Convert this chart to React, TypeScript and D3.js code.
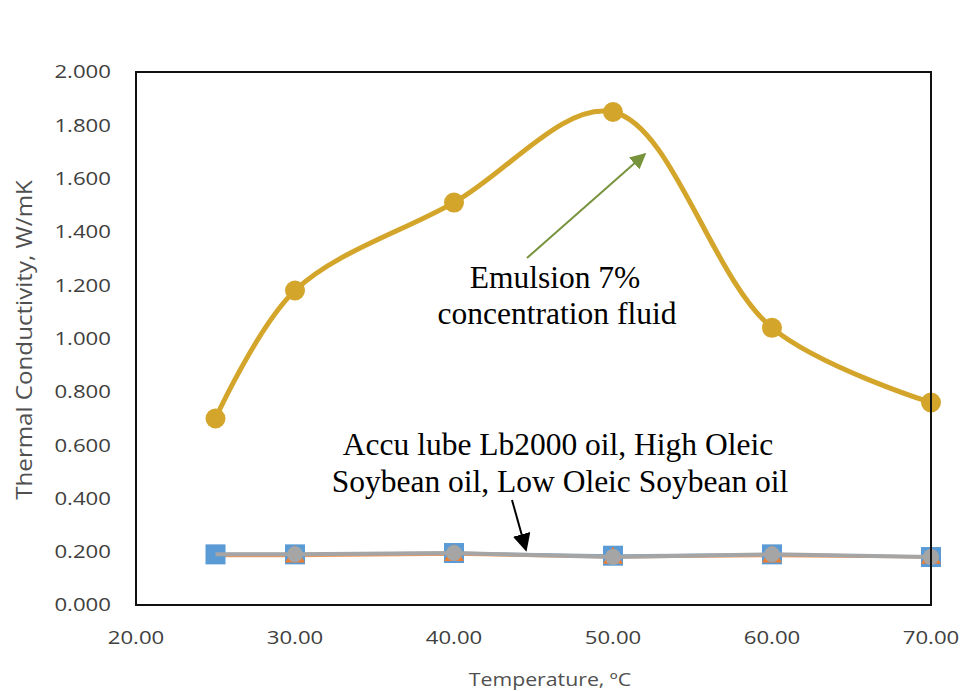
import React from "react";
import * as d3 from "d3";

const temperatures = [25, 30, 40, 50, 60, 70];
const emulsion = [0.7, 1.18, 1.51, 1.85, 1.04, 0.76];
const accuLube = [0.19, 0.19, 0.195, 0.185, 0.19, 0.18];
const highOleic = [0.185, 0.185, 0.19, 0.18, 0.185, 0.18];
const lowOleic = [0.19, 0.19, 0.195, 0.18, 0.19, 0.18];
const xTicks = [20, 30, 40, 50, 60, 70];
const yTicks = [0, 0.2, 0.4, 0.6, 0.8, 1.0, 1.2, 1.4, 1.6, 1.8, 2.0];

const W = 962;
const H = 691;
const left = 136;
const right = 931;
const top = 72;
const bottom = 605;

export default function App() {
  const x = d3.scaleLinear().domain([20, 70]).range([left, right]);
  const y = d3.scaleLinear().domain([0, 2]).range([bottom, top]);

  const smooth = d3
    .line<number>()
    .x((_, i) => x(temperatures[i]))
    .y((d) => y(d))
    .curve(d3.curveCatmullRom.alpha(0.5));
  const straight = d3
    .line<number>()
    .x((_, i) => x(temperatures[i]))
    .y((d) => y(d));

  const tri = d3.symbol(d3.symbolTriangle, 170)();

  const gold = "#d4a52b";
  const blue = "#5b9bd5";
  const orange = "#ed7d31";
  const gray = "#a5a5a5";
  const sans = "'Open Sans', 'DejaVu Sans', sans-serif";
  const serif = "'Liberation Serif', 'Times New Roman', serif";
  const serifSize = 31.5;

  return (
    <svg
      width={W}
      height={H}
      style={{ position: "absolute", left: 0, top: 0, background: "#fff" }}
    >
      <defs>
        <marker id="arrG" viewBox="0 0 10 10" refX="9" refY="5" markerWidth="8" markerHeight="8" orient="auto">
          <path d="M0,0 L10,5 L0,10 z" fill="#77933c" />
        </marker>
        <marker id="arrK" viewBox="0 0 10 10" refX="9" refY="5" markerWidth="9" markerHeight="9" orient="auto">
          <path d="M0,0 L10,5 L0,10 z" fill="#000" />
        </marker>
      </defs>

      {/* y tick labels */}
      {yTicks.map((t) => (
        <text
          key={t}
          transform={`translate(111, ${y(t)}) scale(1.2, 1)`}
          dy="0.35em"
          textAnchor="end"
          fontFamily={sans}
          fontSize={18.5}
          fill="#404040"
        >
          {t.toFixed(3)}
        </text>
      ))}
      {/* x tick labels */}
      {xTicks.map((t) => (
        <text
          key={t}
          transform={`translate(${x(t)}, 638) scale(1.2, 1)`}
          dy="0.35em"
          textAnchor="middle"
          fontFamily={sans}
          fontSize={18.5}
          fill="#404040"
        >
          {t.toFixed(2)}
        </text>
      ))}

      <text
        transform="translate(550, 679) scale(1.12, 1)"
        dy="0.35em"
        textAnchor="middle"
        fontFamily={sans}
        fontSize={19}
        fill="#505050"
      >
        Temperature, ºC
      </text>
      <text
        transform={`translate(25, 340) rotate(-90) scale(1.15, 1)`}
        dy="0.35em"
        textAnchor="middle"
        fontFamily={sans}
        fontSize={21}
        fill="#505050"
      >
        Thermal Conductivity, W/mK
      </text>

      {/* low-value series */}
      <path d={straight(accuLube) ?? ""} fill="none" stroke="#8fa6bb" strokeWidth={3} />
      <path d={straight(highOleic) ?? ""} fill="none" stroke={orange} strokeWidth={3} opacity={0.8} />
      {accuLube.map((v, i) => (
        <rect
          key={"b" + i}
          x={x(temperatures[i]) - 10}
          y={y(v) - 10}
          width={20}
          height={20}
          fill={blue}
        />
      ))}
      {highOleic.map((v, i) =>
        i === 0 ? null : (
          <path
            key={"o" + i}
            d={tri ?? ""}
            transform={`translate(${x(temperatures[i])}, ${y(v) + 1})`}
            fill={orange}
          />
        )
      )}
      <path d={straight(lowOleic) ?? ""} fill="none" stroke={gray} strokeWidth={4} />
      {lowOleic.map((v, i) =>
        i === 0 ? null : (
          <circle key={"g" + i} cx={x(temperatures[i])} cy={y(v)} r={8} fill={gray} />
        )
      )}

      {/* emulsion series */}
      <path d={smooth(emulsion) ?? ""} fill="none" stroke={gold} strokeWidth={5} strokeLinecap="round" />
      {emulsion.map((v, i) => (
        <circle key={"e" + i} cx={x(temperatures[i])} cy={y(v)} r={10} fill={gold} />
      ))}

      {/* plot frame */}
      <rect
        x={left}
        y={top}
        width={right - left}
        height={bottom - top}
        fill="none"
        stroke="#111"
        strokeWidth={2}
      />

      {/* annotations */}
      <line x1={527} y1={258} x2={645} y2={154} stroke="#77933c" strokeWidth={2} markerEnd="url(#arrG)" />
      <text x={555} y={288} textAnchor="middle" fontFamily={serif} fontSize={serifSize} fill="#000">
        Emulsion 7%
      </text>
      <text x={557} y={324} textAnchor="middle" fontFamily={serif} fontSize={serifSize} fill="#000">
        concentration fluid
      </text>

      <text x={558} y={455} textAnchor="middle" fontFamily={serif} fontSize={serifSize} fill="#000">
        Accu lube Lb2000 oil, High Oleic
      </text>
      <text x={560} y={492} textAnchor="middle" fontFamily={serif} fontSize={serifSize} fill="#000">
        Soybean oil, Low Oleic Soybean oil
      </text>
      <line x1={512} y1={500} x2={526} y2={550} stroke="#000" strokeWidth={2} markerEnd="url(#arrK)" />
    </svg>
  );
}
